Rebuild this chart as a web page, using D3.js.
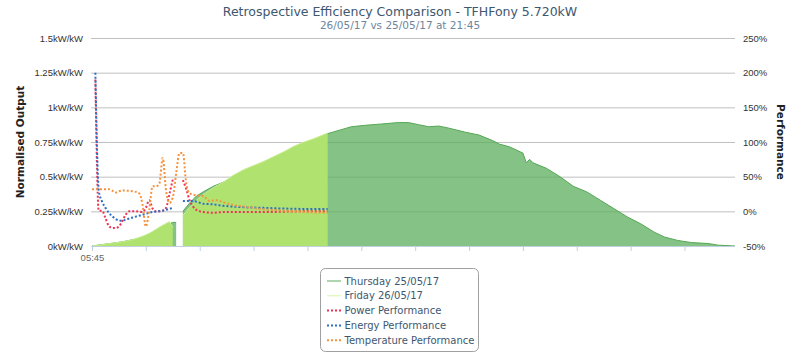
<!DOCTYPE html>
<html>
<head>
<meta charset="utf-8">
<script src="https://cdn.jsdelivr.net/npm/d3@7"></script>
<style>
  body { margin: 0; background: #fff; }
  svg { font-family: "DejaVu Sans", Verdana, sans-serif; }
  .grid line { stroke: #c0c0c0; stroke-width: 1; }
  .lbl { font-size: 9.5px; fill: #333; }
</style>
</head>
<body>
<div id="chart"></div>
<script>
(function(){
  'use strict';

  // data (time, value) - area series in kW/kW, performance in %
  var thursday = [
    ['05:45', 0], ['06:00', 0.01], ['06:30', 0.03], ['07:00', 0.06], ['07:30', 0.14],
    ['07:45', 0.17], ['07:50', 0.17], ['07:55', null], ['08:00', 0.25], ['08:10', 0.31],
    ['08:20', 0.36], ['08:30', 0.39], ['08:45', 0.43], ['09:00', 0.46], ['09:30', 0.53],
    ['10:00', 0.59], ['10:30', 0.66], ['11:00', 0.73], ['11:35', 0.81], ['12:10', 0.86],
    ['12:30', 0.87], ['12:55', 0.88], ['13:20', 0.89], ['13:35', 0.89], ['13:50', 0.875],
    ['14:05', 0.86], ['14:20', 0.865], ['14:35', 0.85], ['15:00', 0.82], ['15:20', 0.80],
    ['15:40', 0.76], ['15:50', 0.735], ['16:05', 0.715], ['16:25', 0.67], ['16:30', 0.60],
    ['16:35', 0.625], ['16:40', 0.60], ['17:00', 0.56], ['17:20', 0.50], ['17:40', 0.43],
    ['18:00', 0.39], ['18:20', 0.33], ['18:40', 0.27], ['19:00', 0.21], ['19:20', 0.16],
    ['19:40', 0.10], ['19:55', 0.065], ['20:15', 0.04], ['20:35', 0.025], ['21:00', 0.018],
    ['21:15', 0.006], ['21:40', 0]
  ];

  var friday = [
    ['05:45', 0], ['06:00', 0.01], ['06:15', 0.02], ['06:30', 0.03], ['06:45', 0.045],
    ['07:00', 0.07], ['07:10', 0.09], ['07:20', 0.12], ['07:30', 0.15], ['07:40', 0.175],
    ['07:45', 0.135], ['07:50', null], ['07:55', null], ['08:00', 0.22], ['08:10', 0.28],
    ['08:20', 0.33], ['08:30', 0.37], ['08:45', 0.42], ['09:00', 0.46], ['09:15', 0.51],
    ['09:30', 0.55], ['09:45', 0.58], ['10:00', 0.61], ['10:15', 0.645], ['10:30', 0.68],
    ['10:45', 0.72], ['11:00', 0.75], ['11:15', 0.775], ['11:35', 0.815]
  ];

  var powerPerf = [
    ['05:50', 190], ['05:55', 1], ['06:00', 1], ['06:05', -10], ['06:10', -21],
    ['06:15', -24], ['06:20', -24], ['06:25', -22], ['06:30', -14], ['06:35', -5],
    ['06:40', 0], ['06:50', 0], ['07:00', -1], ['07:05', 5], ['07:10', 16],
    ['07:15', 4], ['07:20', 0], ['07:25', 0], ['07:30', 1], ['07:35', 5],
    ['07:40', 25], ['07:45', 46], ['07:50', null], ['07:55', null], ['08:00', 45],
    ['08:05', 32], ['08:10', 16], ['08:15', 7], ['08:20', 2], ['08:30', -1],
    ['08:45', -2], ['09:00', -1], ['10:00', -1], ['11:00', 0], ['11:35', 0]
  ];

  var energyPerf = [
    ['05:50', 200], ['05:55', 30], ['06:00', 14], ['06:05', 5], ['06:10', -2],
    ['06:15', -7], ['06:20', -11], ['06:25', -13], ['06:30', -13.5], ['06:35', -12],
    ['06:45', -9], ['07:00', -5], ['07:15', -1], ['07:30', 1], ['07:45', 5],
    ['07:50', null], ['07:55', null], ['08:00', 15], ['08:10', 15], ['08:20', 14],
    ['08:30', 11], ['08:45', 10], ['09:00', 8], ['09:30', 6], ['10:00', 5],
    ['10:30', 4], ['11:00', 3.5], ['11:35', 3.5]
  ];

  var tempPerf = [
    ['05:45', 32], ['06:00', 32], ['06:10', 32], ['06:15', 30], ['06:20', 27],
    ['06:25', 29], ['06:30', 30], ['06:45', 29], ['06:55', 26], ['07:00', 10],
    ['07:05', -22], ['07:10', 2], ['07:15', 36], ['07:20', 36], ['07:25', 40],
    ['07:30', 77], ['07:35', 30], ['07:40', 12], ['07:45', 20], ['07:50', 55],
    ['07:55', 84], ['08:00', 84], ['08:05', 40], ['08:10', 26], ['08:20', 23],
    ['08:30', 22], ['08:40', 15], ['08:50', 16], ['09:00', 13], ['09:15', 9],
    ['09:30', 7], ['10:00', 3], ['10:30', 1], ['11:00', -1], ['11:35', -2]
  ];

  var leftTicks = [0, 0.25, 0.5, 0.75, 1, 1.25, 1.5];
  var rightTicks = [-50, 0, 50, 100, 150, 200, 250];
  var xTicks = ['05:45', '07:05', '08:25', '09:45', '11:05', '12:25', '13:45',
                '15:05', '16:25', '17:45', '19:05', '20:25'];
  var xLabelled = ['05:45'];

  var legendItems = [
    {name: 'Thursday 25/05/17', color: '#5cad5c', dash: null},
    {name: 'Friday 26/05/17', color: '#d9f5a8', dash: null},
    {name: 'Power Performance', color: '#ee3355', dash: '2,2'},
    {name: 'Energy Performance', color: '#2d6fc4', dash: '2,2'},
    {name: 'Temperature Performance', color: '#f5923e', dash: '2,2'}
  ];

  var W = 800, H = 354,
      left = 92, right = 735, top = 38, bottom = 246;

  var parse = d3.timeParse('%H:%M');

  var svg = d3.select('#chart').append('svg')
    .attr('width', W)
    .attr('height', H);

  var x = d3.scaleTime()
    .domain([parse('05:45'), parse('21:40')])
    .range([left, right]);

  var y = d3.scaleLinear().domain([0, 1.5]).range([bottom, top]);
  var y2 = d3.scaleLinear().domain([-50, 250]).range([bottom, top]);

  // title
  svg.append('text')
    .attr('x', 400).attr('y', 16)
    .attr('text-anchor', 'middle')
    .style('font-size', '12.5px')
    .style('fill', '#3e576f')
    .text('Retrospective Efficiency Comparison - TFHFony 5.720kW');

  svg.append('text')
    .attr('x', 400).attr('y', 29)
    .attr('text-anchor', 'middle')
    .style('font-size', '10.5px')
    .style('fill', '#6d869f')
    .text('26/05/17 vs 25/05/17 at 21:45');

  // grid
  var yAxisL = d3.axisLeft(y)
    .tickValues(leftTicks)
    .tickSize(-(right - left + 1))
    .tickPadding(8)
    .tickFormat(function(d){ return d + 'kW/kW'; });

  var gL = svg.append('g')
    .attr('class', 'grid')
    .attr('transform', 'translate(' + (left - 1) + ',0)')
    .call(yAxisL);
  gL.select('.domain').remove();
  gL.selectAll('text').attr('class', 'lbl');

  var yAxisR = d3.axisRight(y2)
    .tickValues(rightTicks)
    .tickSize(0)
    .tickPadding(8)
    .tickFormat(function(d){ return d + '%'; });

  var gR = svg.append('g')
    .attr('transform', 'translate(' + right + ',0)')
    .call(yAxisR);
  gR.select('.domain').remove();
  gR.selectAll('text').attr('class', 'lbl');

  // areas
  function pts(arr) {
    return arr.map(function(d){ return {t: parse(d[0]), v: d[1]}; });
  }

  var area = d3.area()
    .defined(function(d){ return d.v !== null; })
    .x(function(d){ return x(d.t); })
    .y0(y(0))
    .y1(function(d){ return y(d.v); });

  var areaLine = d3.line()
    .defined(function(d){ return d.v !== null; })
    .x(function(d){ return x(d.t); })
    .y(function(d){ return y(d.v); });

  svg.append('path')
    .datum(pts(thursday))
    .attr('d', area)
    .style('fill', '#5cad5c')
    .style('fill-opacity', 0.75);

  svg.append('path')
    .datum(pts(thursday))
    .attr('d', areaLine)
    .style('fill', 'none')
    .style('stroke', '#55a855')
    .style('stroke-width', 1);

  svg.append('path')
    .datum(pts(friday))
    .attr('d', area)
    .style('fill', '#b0e270');

  svg.append('path')
    .datum(pts(friday))
    .attr('d', areaLine)
    .style('fill', 'none')
    .style('stroke', '#c8ee90')
    .style('stroke-width', 1);

  // performance lines
  var perfLine = d3.line()
    .defined(function(d){ return d.v !== null; })
    .curve(d3.curveMonotoneX)
    .x(function(d){ return x(d.t); })
    .y(function(d){ return y2(d.v); });

  [[powerPerf, '#ee3355'], [energyPerf, '#2d6fc4'], [tempPerf, '#f5923e']].forEach(function(s) {
    svg.append('path')
      .datum(pts(s[0]))
      .attr('d', perfLine)
      .style('fill', 'none')
      .style('stroke', s[1])
      .style('stroke-width', 2)
      .style('stroke-dasharray', '2,2');
  });

  // x axis
  var xAxis = d3.axisBottom(x)
    .tickValues(xTicks.map(parse))
    .tickSize(5)
    .tickPadding(3)
    .tickFormat(function(d){
      var s = d3.timeFormat('%H:%M')(d);
      return xLabelled.indexOf(s) >= 0 ? s : '';
    });

  var gX = svg.append('g')
    .attr('transform', 'translate(0,' + bottom + ')')
    .call(xAxis);
  gX.select('.domain').attr('d', 'M' + (left - 1) + ',0.5H' + right).style('stroke', '#c0d0e0');
  gX.selectAll('.tick line').style('stroke', '#c0d0e0');
  gX.selectAll('text').attr('class', 'lbl').style('fill', '#666');

  // axis titles
  svg.append('text')
    .attr('transform', 'translate(24,' + ((top + bottom) / 2) + ') rotate(-90)')
    .attr('text-anchor', 'middle')
    .style('font-size', '10.5px')
    .style('font-weight', 'bold')
    .style('fill', '#222')
    .text('Normalised Output');

  svg.append('text')
    .attr('transform', 'translate(777,' + ((top + bottom) / 2) + ') rotate(90)')
    .attr('text-anchor', 'middle')
    .style('font-size', '10.5px')
    .style('font-weight', 'bold')
    .style('fill', '#222')
    .text('Performance');

  // legend
  var lg = svg.append('g').attr('transform', 'translate(320.5,268.5)');
  lg.append('rect')
    .attr('width', 158).attr('height', 83)
    .attr('rx', 5)
    .style('fill', '#fff')
    .style('stroke', '#a0a0a0');

  var item = lg.selectAll('.item')
    .data(legendItems)
    .enter().append('g')
    .attr('transform', function(d, i){ return 'translate(0,' + (12.5 + i * 14.8) + ')'; });

  item.append('line')
    .attr('x1', 6.5).attr('x2', 20.5)
    .style('stroke', function(d){ return d.color; })
    .style('stroke-width', function(d){ return d.dash ? 2 : 1; })
    .style('stroke-dasharray', function(d){ return d.dash; });

  item.append('text')
    .attr('x', 24)
    .attr('dy', '0.35em')
    .style('font-size', '10px')
    .style('fill', '#3e576f')
    .text(function(d){ return d.name; });

}());
</script>
</body>
</html>
